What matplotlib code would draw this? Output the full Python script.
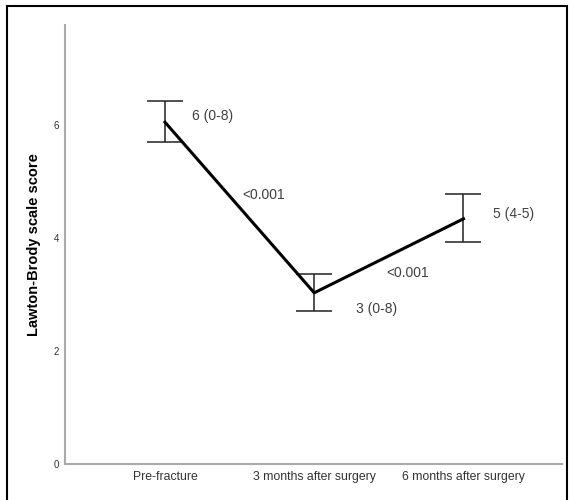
import numpy as np
import matplotlib
matplotlib.use("Agg")
import matplotlib.pyplot as plt
from matplotlib.patches import Rectangle

plt.rcParams['font.family'] = ['Liberation Sans', 'DejaVu Sans']

categories = ["Pre-fracture", "3 months after surgery", "6 months after surgery"]
means = [6.05, 3.03, 4.34]
lower = [5.70, 2.71, 3.93]
upper = [6.42, 3.36, 4.77]
point_labels = ["6 (0-8)", "3 (0-8)", "5 (4-5)"]
p_labels = ["<0.001", "<0.001"]
yticks = [0, 2, 4, 6]

fig = plt.figure(figsize=(5.73, 5.0), dpi=100)
ax = fig.add_axes([0.1134, 0.072, 0.8674, 0.878])

x = np.arange(len(categories))
means = np.array(means)
yerr = np.array([means - np.array(lower), np.array(upper) - means])

ax.plot(x, means, color="black", lw=2.2, zorder=3)
ax.errorbar(x, means, yerr=yerr, fmt="none", ecolor="#222222",
            elinewidth=1.1, capsize=13, capthick=1.1, zorder=2)

# value labels next to each point
lab_pos = [(0.18, 6.16), (1.28, 2.74), (2.20, 4.42)]
for (tx, ty), s in zip(lab_pos, point_labels):
    ax.text(tx, ty, s, fontsize=10, color="#404040", ha="left", va="center")

p_pos = [(0.52, 4.76), (1.48, 3.38)]
for (tx, ty), s in zip(p_pos, p_labels):
    ax.text(tx, ty, s, fontsize=10, color="#404040", ha="left", va="center")

ax.set_xlim(-0.67, 2.66)
ax.set_ylim(0, 7.77)
ax.set_xticks(x)
ax.set_xticklabels(categories, fontsize=8.8, color="#333333")
ax.set_yticks(yticks)
ax.set_yticklabels([str(t) for t in yticks], fontsize=7, color="#333333")
ax.tick_params(length=0, pad=4)
ax.tick_params(axis="x", pad=5)

ax.set_ylabel("Lawton-Brody scale score", fontsize=10.5, fontweight="bold",
              labelpad=9)

for side in ["top", "right"]:
    ax.spines[side].set_visible(False)
for side in ["left", "bottom"]:
    ax.spines[side].set_color("#aaaaaa")
    ax.spines[side].set_linewidth(1.5)

# outer frame around the picture
fig.patches.append(Rectangle((7 / 573, -0.01), 560 / 573, 0.998,
                             transform=fig.transFigure, fill=False,
                             edgecolor="black", lw=1.5))

fig.savefig("out.png", dpi=100)
